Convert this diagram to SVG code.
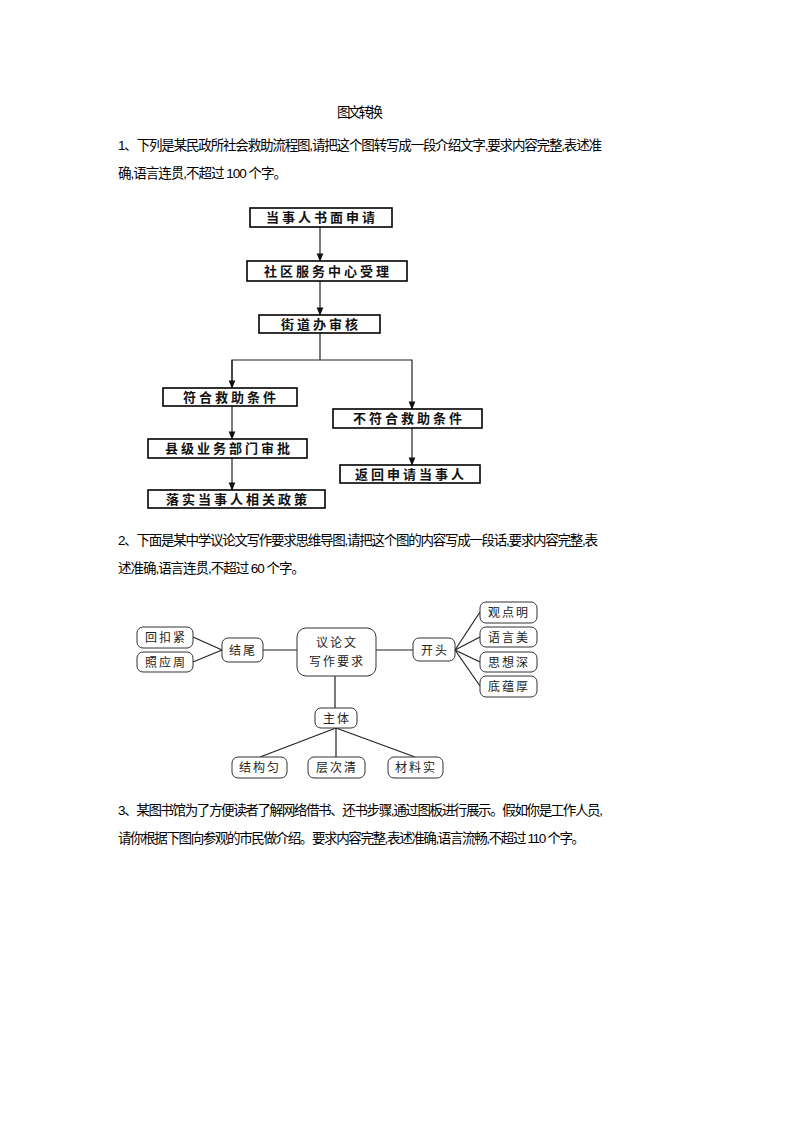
<svg xmlns="http://www.w3.org/2000/svg" width="794" height="1123" viewBox="0 0 794 1123">
<defs>
<style>
.t{font-family:"Liberation Sans","Noto Sans CJK SC",sans-serif;font-size:13.5px;fill:#000}
.fb{fill:#fff;stroke:#000;stroke-width:1.6}
.ft{font-family:"Noto Sans CJK SC",sans-serif;font-size:13px;font-weight:bold;fill:#111;text-anchor:middle;letter-spacing:3px}
.mb{fill:#fff;stroke:#333;stroke-width:1}
.mt{font-family:"Noto Sans CJK SC",serif;font-size:12px;fill:#222;text-anchor:middle;letter-spacing:2px}
.ln{stroke:#222;stroke-width:1.2;fill:none}
</style>
<marker id="a" viewBox="0 0 10 10" refX="9" refY="5" markerWidth="7" markerHeight="7" orient="auto"><path d="M0,1L10,5L0,9z" fill="#111"/></marker>
</defs>
<g id="texts">
<text class="t" x="337" y="117" textLength="46">图文转换</text>
<text class="t" x="118" y="150" textLength="484">1、下列是某民政所社会救助流程图,请把这个图转写成一段介绍文字,要求内容完整,表述准</text>
<text class="t" x="118" y="178" textLength="169">确,语言连贯,不超过 100 个字。</text>
<text class="t" x="118" y="545" textLength="480">2、下面是某中学议论文写作要求思维导图,请把这个图的内容写成一段话,要求内容完整,表</text>
<text class="t" x="118" y="573" textLength="187">述准确,语言连贯,不超过 60 个字。</text>
<text class="t" x="118" y="815" textLength="485">3、某图书馆为了方便读者了解网络借书、还书步骤,通过图板进行展示。假如你是工作人员,</text>
<text class="t" x="118" y="843" textLength="467">请你根据下图向参观的市民做介绍。要求内容完整,表述准确,语言流畅,不超过 110 个字。</text>
</g>
<g id="flow-connectors">
<line class="ln" x1="320" y1="227" x2="320" y2="261" marker-end="url(#a)"/>
<line class="ln" x1="320" y1="281" x2="320" y2="315" marker-end="url(#a)"/>
<polyline class="ln" points="320,333 320,360"/>
<polyline class="ln" points="232,388 232,360 412,360 412,409" marker-end="url(#a)"/>
<line class="ln" x1="232" y1="360" x2="232" y2="388" marker-end="url(#a)"/>
<line class="ln" x1="232" y1="405" x2="232" y2="439" marker-end="url(#a)"/>
<line class="ln" x1="232" y1="458" x2="232" y2="490" marker-end="url(#a)"/>
<line class="ln" x1="412" y1="428" x2="412" y2="465" marker-end="url(#a)"/>
</g>
<g id="f1"><rect class="fb" x="250" y="208" width="142" height="19"/><text class="ft" x="322" y="222">当事人书面申请</text></g>
<g id="f2"><rect class="fb" x="247" y="261" width="160" height="20"/><text class="ft" x="328" y="276">社区服务中心受理</text></g>
<g id="f3"><rect class="fb" x="259" y="315" width="121" height="18"/><text class="ft" x="321" y="329">街道办审核</text></g>
<g id="f4"><rect class="fb" x="163" y="388" width="134" height="18"/><text class="ft" x="231" y="402">符合救助条件</text></g>
<g id="f5"><rect class="fb" x="333" y="409" width="149" height="19"/><text class="ft" x="409" y="423">不符合救助条件</text></g>
<g id="f6"><rect class="fb" x="148" y="439" width="159" height="19"/><text class="ft" x="229" y="453">县级业务部门审批</text></g>
<g id="f7"><rect class="fb" x="340" y="465" width="140" height="18"/><text class="ft" x="411" y="479">返回申请当事人</text></g>
<g id="f8"><rect class="fb" x="148" y="490" width="177" height="18"/><text class="ft" x="238" y="504">落实当事人相关政策</text></g>
<g id="mind-connectors">
<line class="ln" x1="193" y1="637" x2="222" y2="650"/>
<line class="ln" x1="193" y1="662" x2="222" y2="650"/>
<line class="ln" x1="263" y1="650" x2="297" y2="650"/>
<line class="ln" x1="376" y1="650" x2="413" y2="650"/>
<line class="ln" x1="455" y1="650" x2="480" y2="612"/>
<line class="ln" x1="455" y1="650" x2="480" y2="637"/>
<line class="ln" x1="455" y1="650" x2="480" y2="662"/>
<line class="ln" x1="455" y1="650" x2="480" y2="686"/>
<line class="ln" x1="335" y1="676" x2="335" y2="708"/>
<line class="ln" x1="336" y1="728" x2="260" y2="757"/>
<line class="ln" x1="336" y1="728" x2="336" y2="757"/>
<line class="ln" x1="336" y1="728" x2="415" y2="757"/>
</g>
<g id="m-center"><rect class="mb" x="297" y="628" width="79" height="48" rx="9"/><text class="mt" x="337" y="647">议论文</text><text class="mt" x="337" y="666">写作要求</text></g>
<g id="m-jiewei"><rect class="mb" x="222" y="638" width="41" height="24" rx="6"/><text class="mt" x="243" y="655">结尾</text></g>
<g id="m-huikou"><rect class="mb" x="137" y="627" width="56" height="21" rx="6"/><text class="mt" x="166" y="642">回扣紧</text></g>
<g id="m-zhaoying"><rect class="mb" x="137" y="652" width="56" height="20" rx="6"/><text class="mt" x="166" y="667">照应周</text></g>
<g id="m-kaitou"><rect class="mb" x="413" y="638" width="42" height="23" rx="6"/><text class="mt" x="435" y="655">开头</text></g>
<g id="m-r1"><rect class="mb" x="480" y="602" width="57" height="21" rx="6"/><text class="mt" x="509" y="617">观点明</text></g>
<g id="m-r2"><rect class="mb" x="480" y="627" width="57" height="20" rx="6"/><text class="mt" x="509" y="642">语言美</text></g>
<g id="m-r3"><rect class="mb" x="480" y="652" width="57" height="20" rx="6"/><text class="mt" x="509" y="667">思想深</text></g>
<g id="m-r4"><rect class="mb" x="480" y="676" width="57" height="21" rx="6"/><text class="mt" x="509" y="691">底蕴厚</text></g>
<g id="m-zhuti"><rect class="mb" x="315" y="708" width="42" height="20" rx="6"/><text class="mt" x="337" y="723">主体</text></g>
<g id="m-b1"><rect class="mb" x="232" y="757" width="55" height="21" rx="6"/><text class="mt" x="260" y="772">结构匀</text></g>
<g id="m-b2"><rect class="mb" x="308" y="757" width="57" height="21" rx="6"/><text class="mt" x="337" y="772">层次清</text></g>
<g id="m-b3"><rect class="mb" x="388" y="757" width="55" height="21" rx="6"/><text class="mt" x="416" y="772">材料实</text></g>
</svg>
